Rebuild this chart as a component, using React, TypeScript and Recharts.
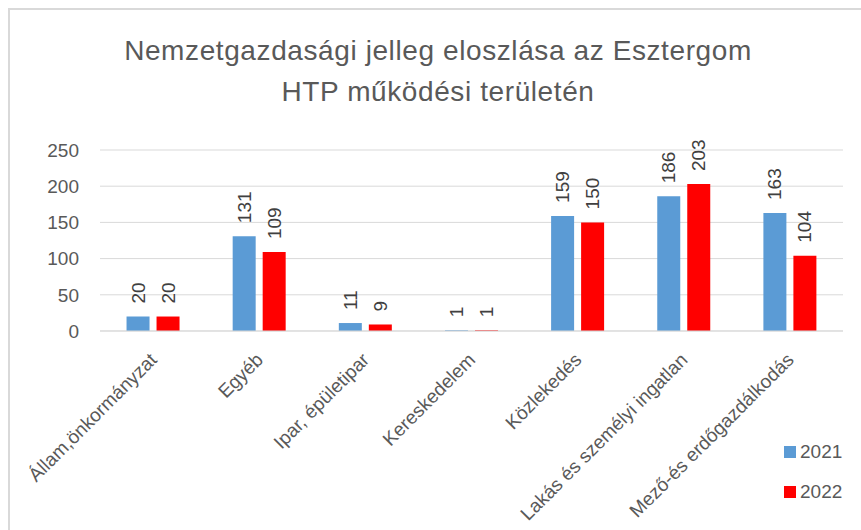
import { BarChart, Bar, XAxis, YAxis, CartesianGrid, LabelList, Legend } from 'recharts'

const categories = [
  'Állam,önkormányzat',
  'Egyéb',
  'Ipar, épületipar',
  'Kereskedelem',
  'Közlekedés',
  'Lakás és személyi ingatlan',
  'Mező-és erdőgazdálkodás',
]
const values2021 = [20, 131, 11, 1, 159, 186, 163]
const values2022 = [20, 109, 9, 1, 150, 203, 104]
const yTicks = [0, 50, 100, 150, 200, 250]

const BLUE = '#5B9BD5'
const RED = '#FF0000'
const TEXT = '#595959'
const FONT = '"Liberation Sans", Arial, sans-serif'

const data = categories.map((name, i) => ({ name, y2021: values2021[i], y2022: values2022[i] }))

// value labels are drawn vertically above each bar
const renderValue = (props: any) => {
  const { x, y, width, value } = props
  const cx = x + width / 2
  const ty = y - 13
  return (
    <text
      x={cx}
      y={ty}
      transform={`rotate(-90, ${cx}, ${ty})`}
      textAnchor="start"
      dominantBaseline="central"
      fontSize={19}
      fontFamily={FONT}
      fill="#404040"
    >
      {value}
    </text>
  )
}

const renderXTick = ({ x, y, payload }: any) => {
  const tx = x + 5
  const ty = y + 22
  return (
    <text
      x={tx}
      y={ty}
      transform={`rotate(-45, ${tx}, ${ty})`}
      textAnchor="end"
      fontSize={19}
      fontFamily={FONT}
      fill={TEXT}
    >
      {payload.value}
    </text>
  )
}

const renderLegend = () => (
  <div style={{ fontFamily: FONT, fontSize: 19, color: TEXT }}>
    {[
      { label: '2021', color: BLUE },
      { label: '2022', color: RED },
    ].map((item) => (
      <div key={item.label} style={{ display: 'flex', alignItems: 'center', height: 40 }}>
        <span style={{ width: 12, height: 12, background: item.color, marginRight: 4 }} />
        {item.label}
      </div>
    ))}
  </div>
)

export default function App() {
  return (
    <div
      style={{
        position: 'absolute',
        left: 0,
        top: 0,
        width: 861,
        height: 530,
        background: '#fff',
        overflow: 'hidden',
      }}
    >
      <div
        style={{
          position: 'absolute',
          left: 8,
          top: 8,
          width: 900,
          height: 600,
          border: '2px solid #d9d9d9',
        }}
      />
      <div
        style={{
          position: 'absolute',
          left: 0,
          width: 876,
          top: 30,
          textAlign: 'center',
          fontFamily: FONT,
          fontSize: 28,
          letterSpacing: 0.6,
          lineHeight: '41px',
          color: TEXT,
        }}
      >
        Nemzetgazdasági jelleg eloszlása az Esztergom
        <br />
        HTP működési területén
      </div>
      <div style={{ position: 'absolute', left: 0, top: 0 }}>
        <BarChart
          width={861}
          height={530}
          data={data}
          margin={{ top: 150, right: 18, bottom: 19, left: 0 }}
          barCategoryGap="25%"
          barGap={7}
        >
          <CartesianGrid vertical={false} stroke="#d9d9d9" />
          <YAxis
            width={100}
            domain={[0, 250]}
            ticks={yTicks}
            axisLine={false}
            tickLine={false}
            tickSize={0}
            tickMargin={21}
            tick={{ fontSize: 19, fill: TEXT, fontFamily: FONT }}
          />
          <XAxis
            dataKey="name"
            height={180}
            interval={0}
            axisLine={{ stroke: '#d9d9d9' }}
            tickLine={false}
            tick={renderXTick}
          />
          <Legend
            layout="vertical"
            align="center"
            verticalAlign="middle"
            content={renderLegend}
            wrapperStyle={{ position: 'absolute', left: 784, top: 432, width: 72 }}
          />
          <Bar dataKey="y2021" fill={BLUE} isAnimationActive={false}>
            <LabelList dataKey="y2021" content={renderValue} />
          </Bar>
          <Bar dataKey="y2022" fill={RED} isAnimationActive={false}>
            <LabelList dataKey="y2022" content={renderValue} />
          </Bar>
        </BarChart>
      </div>
    </div>
  )
}
